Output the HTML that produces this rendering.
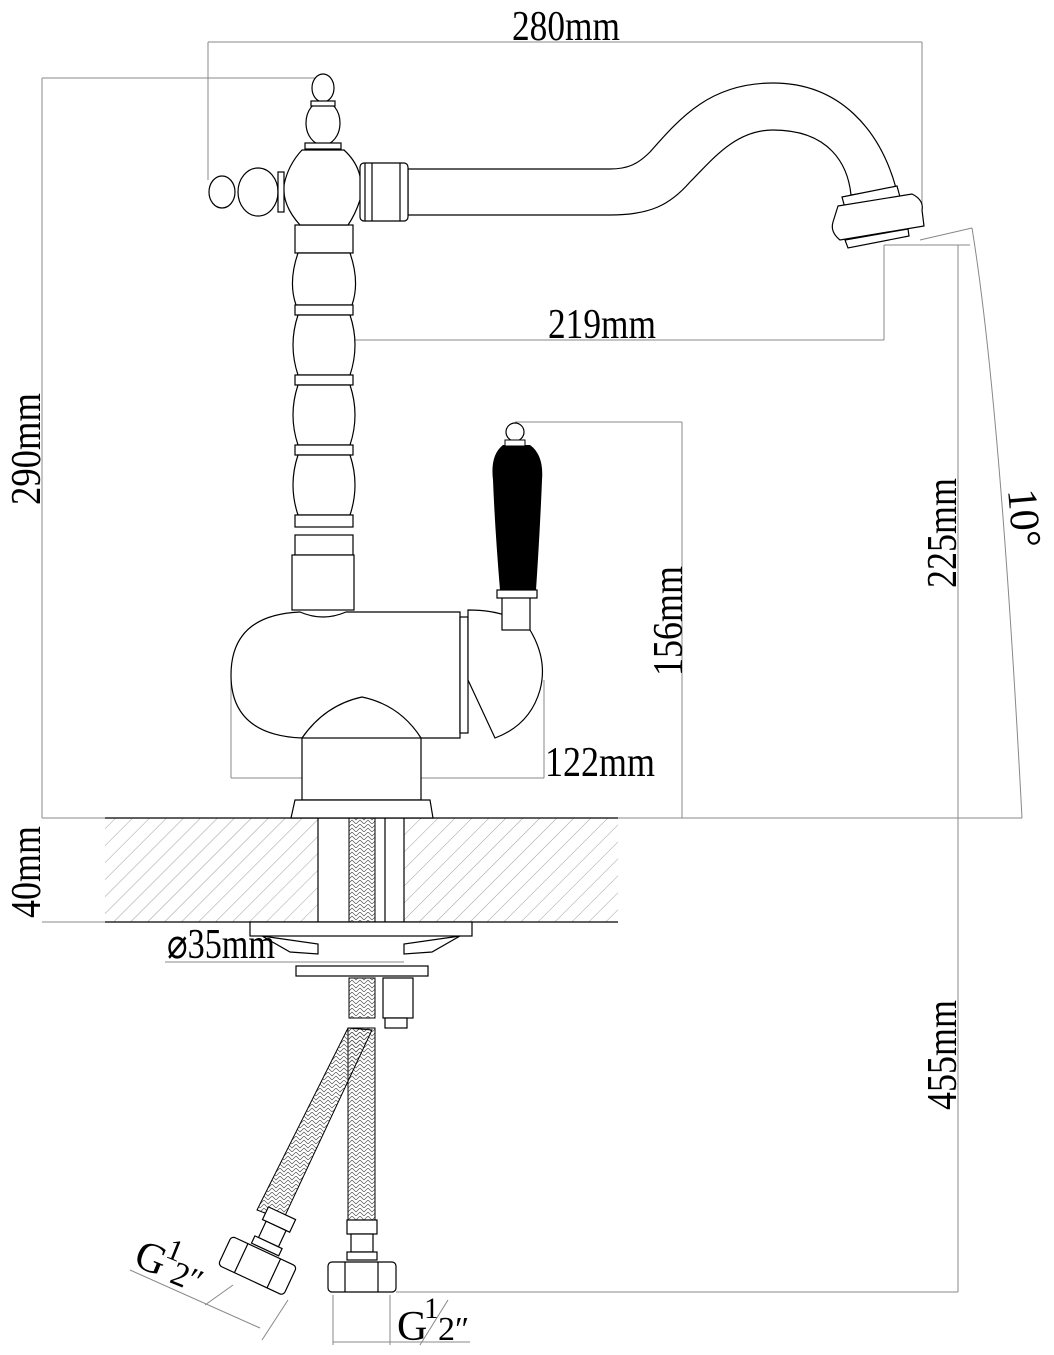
<!DOCTYPE html>
<html><head><meta charset="utf-8"><style>
html,body{margin:0;padding:0;background:#fff;}
svg{display:block;}
text{font-family:"Liberation Serif",serif;fill:#000;}
</style></head><body>
<svg width="1054" height="1355" viewBox="0 0 1054 1355" xmlns="http://www.w3.org/2000/svg">
<defs>
<pattern id="hatch" width="12" height="12" patternUnits="userSpaceOnUse" patternTransform="rotate(45)">
<line x1="0" y1="0" x2="0" y2="12" stroke="#888" stroke-width="0.8"/>
</pattern>
<pattern id="braid" width="8" height="8" patternUnits="userSpaceOnUse">
<path d="M0 0 L4 4 L8 0 M0 4 L4 8 L8 4" stroke="#555" stroke-width="0.7" fill="none"/>
</pattern>
</defs>
<g fill="none" stroke="#888" stroke-width="1">
<line x1="208" y1="42" x2="922" y2="42"/>
<line x1="208" y1="42" x2="208" y2="180"/>
<line x1="922" y1="42" x2="922" y2="212"/>
<line x1="42" y1="78" x2="323" y2="78"/>
<line x1="42" y1="78" x2="42" y2="818"/>
<line x1="42" y1="818" x2="1022" y2="818"/>
<line x1="42" y1="922" x2="618" y2="922"/>
<line x1="323" y1="340" x2="884" y2="340"/>
<line x1="884" y1="245" x2="884" y2="340"/>
<line x1="323" y1="340" x2="323" y2="440"/>
<line x1="515" y1="422" x2="682" y2="422"/>
<line x1="682" y1="422" x2="682" y2="818"/>
<line x1="231" y1="680" x2="231" y2="778"/>
<line x1="544" y1="680" x2="544" y2="778"/>
<line x1="231" y1="778" x2="544" y2="778"/>
<line x1="884" y1="245" x2="970" y2="245"/>
<line x1="958" y1="245" x2="958" y2="1292"/>
<line x1="920" y1="240" x2="972" y2="228"/>
<path d="M972 228 Q1000 400 1022 818"/>
<line x1="396" y1="1292" x2="958" y2="1292"/>
<line x1="318" y1="962" x2="404" y2="962"/>
<line x1="165" y1="962" x2="318" y2="962"/>
<line x1="333" y1="1295" x2="333" y2="1345"/>
<line x1="390" y1="1295" x2="390" y2="1345"/>
<line x1="333" y1="1342" x2="470" y2="1342"/>
<line x1="233" y1="1285" x2="205" y2="1305"/>
<line x1="288" y1="1300" x2="262" y2="1340"/>
<line x1="130" y1="1270" x2="260" y2="1328"/>
</g>
<rect x="105" y="818" width="513" height="104" fill="url(#hatch)"/>
<rect x="318" y="818" width="86" height="104" fill="#fff"/>
<g fill="none" stroke="#000" stroke-width="1.2">
<line x1="105" y1="818" x2="618" y2="818"/>
<line x1="105" y1="922" x2="618" y2="922"/>
<line x1="318" y1="818" x2="318" y2="922"/>
<line x1="404" y1="818" x2="404" y2="922"/>
<line x1="385" y1="818" x2="385" y2="922"/>
</g>
<rect x="349" y="818" width="26" height="104" fill="url(#braid)" stroke="#000"/>
<g fill="#fff" stroke="#000" stroke-width="1.2">
<!-- spout -->
<path d="M408 169 L610 169 C628 169 638 164 650 152 C680 118 710 83 773 83 C840 83 880 130 896 188 L851 195 C848 165 830 130 773 130 C735 130 712 160 690 182 C670 205 650 215 610 215 L408 215 Z"/>
<polygon points="842,197 897,186 900,197 845,208"/>
<path d="M838 206 L912 194 Q924 200 922 210 L924 226 L840 240 Q830 232 833 222 Z"/>
<polygon points="845,240 908,229 909,236 848,248"/>
<!-- pillar -->
<rect x="295" y="225" width="58" height="28"/>
<path d="M298 253 Q288 282 296 305 L352 305 Q360 282 350 253 Z"/>
<rect x="295" y="305" width="58" height="10"/>
<path d="M298 315 Q288 345 298 375 L350 375 Q360 345 350 315 Z"/>
<rect x="295" y="375" width="58" height="10"/>
<path d="M298 385 Q288 415 298 445 L350 445 Q360 415 350 385 Z"/>
<rect x="295" y="445" width="58" height="10"/>
<path d="M298 455 Q288 485 298 515 L350 515 Q360 485 350 455 Z"/>
<rect x="295" y="515" width="58" height="12"/>
<rect x="295" y="535" width="58" height="20"/>
<rect x="292" y="555" width="62" height="55"/>
<!-- head -->
<path d="M302 150 L344 150 Q366 170 360 200 Q355 215 348 225 L300 225 Q282 205 284 185 Q288 165 302 150 Z"/>
<ellipse cx="323" cy="123" rx="17" ry="22"/>
<ellipse cx="323" cy="88" rx="11" ry="14"/>
<rect x="305" y="143" width="36" height="6"/>
<rect x="311" y="101" width="24" height="5"/>
<ellipse cx="258" cy="192" rx="20" ry="24"/>
<ellipse cx="222" cy="192" rx="13" ry="16"/>
<rect x="278" y="172" width="6" height="40"/>
<rect x="360" y="163" width="48" height="58" rx="4"/>
<line x1="365" y1="163" x2="365" y2="221"/>
<line x1="372" y1="163" x2="372" y2="221"/>
<line x1="400" y1="163" x2="400" y2="221"/>
<!-- body -->
<path d="M300 612 Q323 622 346 612 L460 612 L460 738 L421 738 Q400 705 362 697 Q325 705 302 738 Q231 735 231 675 Q231 615 300 612 Z"/>
<rect x="460" y="617" width="8" height="116"/>
<path d="M468 610 Q510 610 530 630 Q548 660 540 690 Q530 725 495 738 L468 680 Z"/>
<rect x="502" y="595" width="28" height="35"/>
<rect x="497" y="590" width="40" height="8"/>
<rect x="302" y="738" width="119" height="62"/>
<path d="M295 800 L430 800 L433 818 L291 818 Z"/>
<rect x="250" y="922" width="222" height="14"/>
<path d="M262 936 L318 944 L318 954 L290 952 Z"/>
<path d="M460 936 L404 944 L404 954 L432 952 Z"/>
<rect x="296" y="966" width="132" height="10"/>
<rect x="383" y="978" width="30" height="40"/>
<rect x="385" y="1018" width="22" height="10"/>
</g>
<path d="M503 445 Q490 455 493 480 Q495 530 500 590 L536 590 Q540 530 542 480 Q544 455 530 445 Z" fill="#000"/>
<circle cx="515" cy="432" r="9" fill="#fff" stroke="#000" stroke-width="1.2"/>
<rect x="505" y="440" width="20" height="6" fill="#fff" stroke="#000"/>
<rect x="349" y="978" width="26" height="40" fill="url(#braid)" stroke="#000"/>
<rect x="348" y="1028" width="27" height="195" fill="url(#braid)" stroke="#000"/>
<polygon points="348,1028 372,1030 283,1220 257,1210" fill="url(#braid)" stroke="#000"/>
<g fill="#fff" stroke="#000" stroke-width="1.2">
<rect x="347" y="1220" width="30" height="14"/>
<rect x="351" y="1234" width="22" height="18"/>
<rect x="347" y="1252" width="30" height="8"/>
<rect x="328" y="1262" width="68" height="30" rx="4"/>
<line x1="345" y1="1262" x2="345" y2="1292"/>
<line x1="378" y1="1262" x2="378" y2="1292"/>
<g transform="rotate(25 250 1270)">
<rect x="240" y="1205" width="30" height="14"/>
<rect x="244" y="1219" width="22" height="18"/>
<rect x="240" y="1237" width="30" height="8"/>
<rect x="219" y="1247" width="72" height="32" rx="4"/>
<line x1="237" y1="1247" x2="237" y2="1279"/>
<line x1="273" y1="1247" x2="273" y2="1279"/>
</g>
</g>
<g font-size="42">
<text x="512" y="40" textLength="108" lengthAdjust="spacingAndGlyphs">280mm</text>
<text x="548" y="338" textLength="108" lengthAdjust="spacingAndGlyphs">219mm</text>
<text x="545" y="776" textLength="110" lengthAdjust="spacingAndGlyphs">122mm</text>
<text x="275" y="958" textLength="108" lengthAdjust="spacingAndGlyphs" text-anchor="end">⌀35mm</text>
<text transform="translate(40 505) rotate(-90)" textLength="112" lengthAdjust="spacingAndGlyphs">290mm</text>
<text transform="translate(40 918) rotate(-90)" textLength="92" lengthAdjust="spacingAndGlyphs">40mm</text>
<text transform="translate(682 676) rotate(-90)" textLength="110" lengthAdjust="spacingAndGlyphs">156mm</text>
<text transform="translate(956 588) rotate(-90)" textLength="110" lengthAdjust="spacingAndGlyphs">225mm</text>
<text transform="translate(956 1110) rotate(-90)" textLength="110" lengthAdjust="spacingAndGlyphs">455mm</text>
<text transform="translate(1008 490) rotate(85)">10°</text>
<text x="397" y="1340">G</text>
<text x="424" y="1318" font-size="30">1</text>
<text x="438" y="1340" font-size="34">2″</text>
<line x1="420" y1="1345" x2="448" y2="1300" stroke="#888"/>
<g transform="translate(132 1265) rotate(22)">
<text x="0" y="0">G</text>
<text x="27" y="-20" font-size="30">1</text>
<text x="40" y="2" font-size="34">2″</text>
</g>
</g>
</svg>
</body></html>
